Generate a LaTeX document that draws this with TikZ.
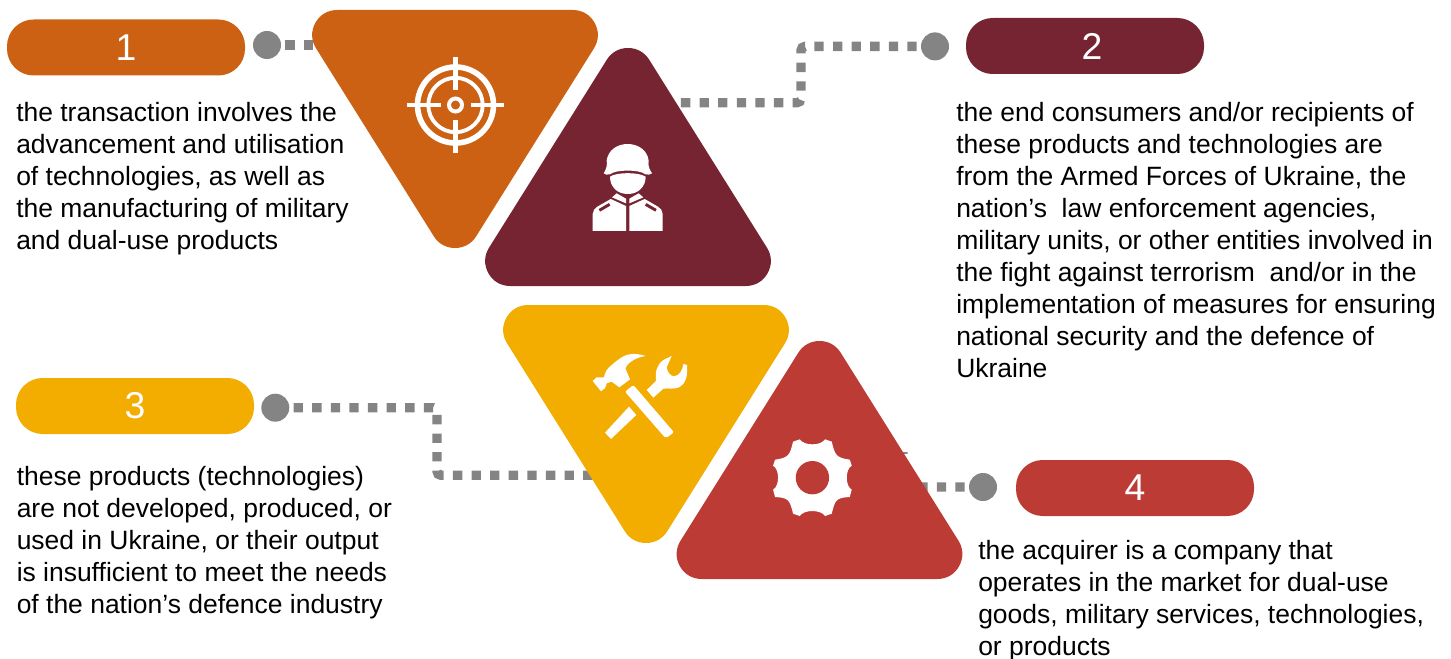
\documentclass[tikz,border=0pt]{standalone}
\usepackage{fontspec}
\setmainfont{Liberation Sans}
\definecolor{cA}{HTML}{CC6114}
\definecolor{cB}{HTML}{772432}
\definecolor{cC}{HTML}{F3AC00}
\definecolor{cD}{HTML}{BD3B35}
\definecolor{gr}{HTML}{848484}
\tikzset{
  pill/.style={rounded corners=20pt,minimum width=178.5pt,minimum height=42pt,inner sep=0pt,text=white,font=\fontsize{28}{28}\selectfont},
  dot/.style={circle,fill=gr,minimum size=21pt,inner sep=0pt},
  link/.style={draw=gr,line width=7pt,dash pattern=on 7pt off 6.95pt,dash phase=10.95pt,rounded corners=3pt},
  tri/.style={line width=37.5pt,line join=round},
  body/.style={anchor=north west,inner sep=0pt,align=left,font=\fontsize{19.85}{24}\selectfont},
  ic/.style={fill=white,draw=none}
}
\begin{document}
\begin{tikzpicture}[x=0.75pt,y=-0.75pt]
\useasboundingbox (0,0) rectangle (1451,659);
% pills and dots
\node[pill,fill=cA] (p1) at (126,47.5) {1};
\node[pill,fill=cB] (p2) at (1085,46) {\hspace*{10.5pt}2};
\node[pill,fill=cC] (p3) at (135,406) {\raisebox{-1.5pt}{3}};
\node[pill,fill=cD] (p4) at (1135,488) {4};
\node[dot] (d1) at (267,45) {};
\node[dot] (d2) at (935,46.4) {};
\node[dot] (d3) at (275.3,407.7) {};
\node[dot] (d4) at (983,487) {};
% connectors
\coordinate (e1) at (330,45);
\coordinate (e2) at (660,102.7);
\coordinate (e3) at (600,475.3);
\coordinate (e4) at (903,452);
\draw[link] (d1.east) -- (e1);
\draw[link] (d2.west) -- (801,46.4) -- (801,102.7) -- (e2);
\draw[link] (d3.east) -- (437,407.7) -- (437,475.3) -- (e3);
\draw[link] (d4.west) -- (903,487) -- (e4);
% triangles
\filldraw[cA,tri] (337.2,35) -- (572.8,35) -- (455,223) -- cycle;
\filldraw[cB,tri] (510.2,261) -- (745.8,261) -- (628,73) -- cycle;
\filldraw[cC,tri] (528.2,330) -- (763.8,330) -- (646,518) -- cycle;
\filldraw[cD,tri] (701.7,554) -- (937.3,554) -- (819.5,366) -- cycle;
% target icon
\begin{scope}[shift={(455.5,105)}]
\draw[white,line width=4.2pt] (0,0) circle (38);
\draw[white,line width=2.9pt] (0,0) circle (27.2);
\draw[white,line width=3pt] (0,0) circle (6.5);
\fill[white] (-2.4,-48.3) rectangle (2.4,-15);
\fill[white] (-2.4,48.3) rectangle (2.4,15);
\fill[white] (-48.3,-2.4) rectangle (-15,2.4);
\fill[white] (48.3,-2.4) rectangle (15,2.4);
\end{scope}
% soldier icon
\begin{scope}[shift={(480,40)},x=0.25pt,y=-0.25pt]
\fill[ic] (371,400) .. controls (380,385) and (382,375) .. (380,362) .. controls (384,330) and (412,312) .. (443,312) .. controls (474,312) and (502,330) .. (506,362) .. controls (504,375) and (506,385) .. (516,400) .. controls (512,405) and (503,404) .. (496,403) .. controls (480,388) and (406,388) .. (390,403) .. controls (383,404) and (374,405) .. (371,400) -- cycle;
\fill[ic] (390,410) .. controls (410,396) and (476,396) .. (497,410) .. controls (497,440) and (475,462) .. (443,462) .. controls (411,462) and (390,440) .. (390,410) -- cycle;
\fill[ic] (338,573) -- (338,522) .. controls (338,512) and (345,504) .. (352,500) -- (392,477) -- (438,498) -- (438,573) -- cycle;
\fill[ic] (548,573) -- (548,522) .. controls (548,512) and (541,504) .. (534,500) -- (494,477) -- (448,498) -- (448,573) -- cycle;
\fill[ic] (396,472) -- (410,460) -- (438,476) -- (438,490) -- cycle;
\fill[ic] (490,472) -- (476,460) -- (448,476) -- (448,490) -- cycle;
\draw[cB,line width=2.2pt] (358,511) -- (389,493);
\draw[cB,line width=2.2pt] (528,511) -- (497,493);
\end{scope}
% tools icon
\begin{scope}[shift={(500,300)},x=0.25pt,y=-0.25pt]
\fill[ic,rounded corners=1.5pt] (375,275) -- (400,255) -- (522,397) -- (497,415) -- cycle;
\fill[ic] (278,243) -- (290,232) -- (312,232) .. controls (315,215) and (322,205) .. (335,195) .. controls (355,178) and (375,162) .. (395,162) .. controls (410,161) and (425,164) .. (437,168) .. controls (410,172) and (385,185) .. (376,205) -- (390,238) -- (358,262) -- (335,245) -- (320,250) .. controls (318,262) and (312,270) .. (303,274) -- cycle;
\fill[ic] (315,398) -- (387,320) -- (409,345) -- (333,417) -- cycle;
\fill[ic] (440,270) -- (468,243) .. controls (465,215) and (470,195) .. (490,180) -- (515,168) -- (500,202) .. controls (502,215) and (510,228) .. (522,229) .. controls (538,228) and (548,210) .. (550,192) -- (561,195) .. controls (563,225) and (560,250) .. (535,263) .. controls (520,268) and (505,264) .. (490,266) -- (460,293) -- cycle;
\end{scope}
% gear icon
\begin{scope}[shift={(812.4,477.67)},x=0.25pt,y=-0.25pt]
\fill[ic] (-58,-108) -- (-38,-115) .. controls (-25,-95) and (25,-95) .. (38,-115) -- (58,-108)
 .. controls (68,-68) and (70,-60) .. (112,-54) -- (118,-36) .. controls (98,-25) and (98,25) .. (118,36) -- (112,58)
 .. controls (70,60) and (68,68) .. (58,108) -- (38,115) .. controls (25,95) and (-25,95) .. (-38,115) -- (-58,108)
 .. controls (-68,68) and (-70,60) .. (-112,58) -- (-118,36) .. controls (-98,25) and (-98,-25) .. (-118,-36) -- (-112,-54)
 .. controls (-70,-60) and (-68,-68) .. (-58,-108) -- cycle;
\fill[cD] (0,0) circle (50);
\end{scope}
% texts
\node[body] (t1) at (16,102.3) {the transaction involves the\\advancement and utilisation\\of technologies, as well as\\the manufacturing of military\\and dual-use products};
\node[body] (t2) at (956,102.3) {the end consumers and/or recipients of\\these products and technologies are\\from the Armed Forces of Ukraine, the\\nation’s\ \ law enforcement agencies,\\military units, or other entities involved in\\the fight against terrorism\ \ and/or in the\\implementation of measures for ensuring\\national security and the defence of\\Ukraine};
\node[body] (t3) at (16.5,466.3) {these products (technologies)\\are not developed, produced, or\\used in Ukraine, or their output\\is insufficient to meet the needs\\of the nation’s defence industry};
\node[body] (t4) at (978,540.5) {the acquirer is a company that\\operates in the market for dual-use\\goods, military services, technologies,\\or products};
\end{tikzpicture}
\end{document}
